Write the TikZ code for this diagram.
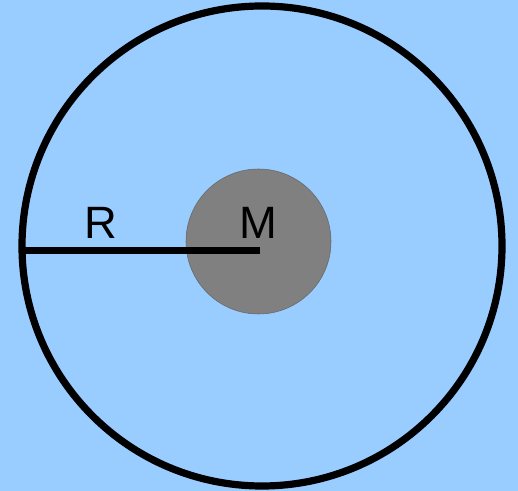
\documentclass[tikz,border=0pt]{standalone}
\usepackage{fontspec}
\setmainfont{Liberation Sans}
\definecolor{skyback}{HTML}{99CCFF}
\definecolor{massgray}{HTML}{808080}

\begin{document}
\begin{tikzpicture}[x=0.75pt,y=-0.75pt]
  \fill[skyback] (0,0) rectangle (518,491);
  \useasboundingbox (0,0) rectangle (518,491);
  \draw[line width=5.4pt] (262,246) circle (240);
  \draw[fill=massgray,draw=black!60,line width=0.4pt] (258.5,241.5) circle (72.5);
  \coordinate (edge) at (22,250.5);
  \coordinate (centre) at (260,250.5);
  \draw[line width=5.2pt] (edge) -- (centre);
  \node[font=\fontsize{34}{40}\selectfont] (R) at (101,223) {R};
  \node[font=\fontsize{34}{40}\selectfont] (M) at (258,223) {M};
\end{tikzpicture}
\end{document}
